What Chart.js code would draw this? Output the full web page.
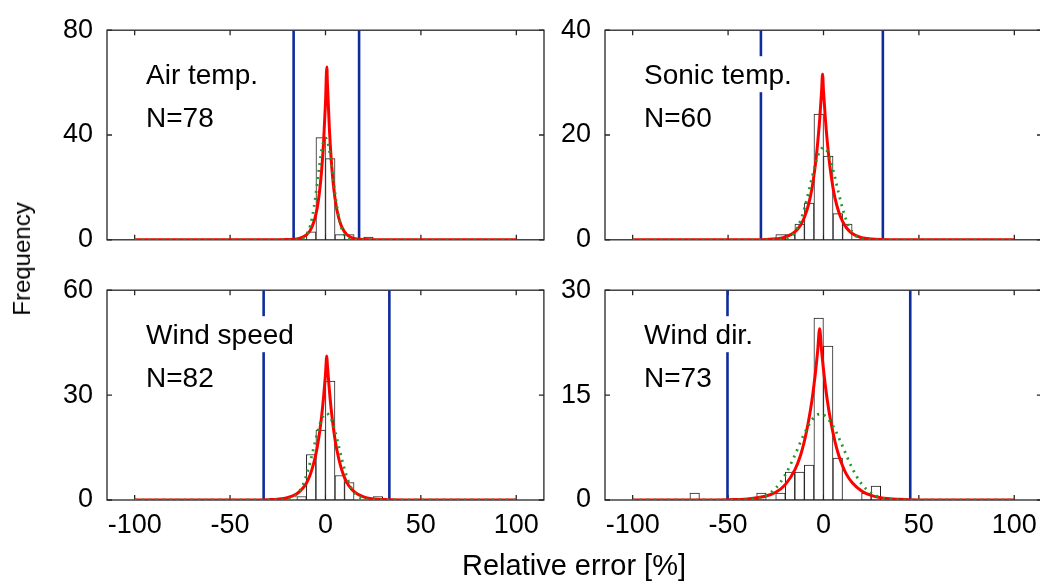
<!DOCTYPE html>
<html>
<head>
<meta charset="utf-8">
<title>Relative error histograms</title>
<script src="https://cdn.jsdelivr.net/npm/chart.js@4.4.1/dist/chart.umd.min.js"></script>
<style>
  html, body { margin: 0; padding: 0; background: #fff; overflow: hidden; }
  body { width: 1040px; height: 587px; position: relative; font-family: 'Liberation Sans', Arial, sans-serif; }
  canvas { position: absolute; }
  #c-air { left: 0; top: 0; }
  #c-sonic { left: 498px; top: 0; }
  #c-speed { left: 0; top: 260px; }
  #c-dir { left: 498px; top: 260px; }
  .axis-title { position: absolute; color: #000; white-space: nowrap; }
  #ylab { left: 22px; top: 259px; font-size: 24px; transform: translate(-50%, -50%) rotate(-90deg); }
  #xlab { left: 574px; top: 565px; font-size: 29px; transform: translate(-50%, -50%); }
</style>
</head>
<body>
<canvas id="c-air" width="548" height="270"></canvas>
<canvas id="c-sonic" width="548" height="270"></canvas>
<canvas id="c-speed" width="548" height="327"></canvas>
<canvas id="c-dir" width="548" height="327"></canvas>
<div class="axis-title" id="ylab">Frequency</div>
<div class="axis-title" id="xlab">Relative error [%]</div>
<script>
// --- Values ---
const X_MIN = -114.5, X_MAX = 114.5;
const xTicks = [-100, -50, 0, 50, 100];

// Air temp. (bin centres, 5 % wide)
const airBins = [-7.5, -2.5, 2.5, 7.5, 12.5, 22.5];
const airCounts = [3, 39, 31, 2, 2, 1];
const airLimits = [-16.7, 17.6];
const airYTicks = [0, 40, 80];
const airRedX = [-100, -30, -20, -15, -12, -10, -8, -6, -5, -4, -3, -2, -1, 0, 0.7, 1, 2, 3, 4, 5, 6, 8, 10, 12, 15, 20, 30, 100];
const airRedY = [0, 0, 0.1, 0.35, 1.0, 1.9, 3.6, 7.1, 9.9, 13.7, 19.2, 26.8, 37.4, 52.4, 66, 59.7, 42.9, 30.6, 21.9, 15.7, 11.3, 5.8, 3.0, 1.5, 0.56, 0.1, 0, 0];
const airGreenX = [-100, -15, -12, -10, -8, -6, -5, -4, -3, -2, -1, 0, 1, 2, 3, 4, 5, 6, 8, 10, 12, 15, 100];
const airGreenY = [0, 0, 0.4, 1.7, 5.3, 12.6, 17.8, 23.6, 29.4, 34.3, 37.7, 38.9, 37.7, 34.3, 29.4, 23.6, 17.8, 12.6, 5.3, 1.7, 0.4, 0, 0];

// Sonic temp.
const sonicBins = [-22.5, -17.5, -12.5, -7.5, -2.5, 2.5, 7.5, 12.5];
const sonicCounts = [1, 1, 3, 7, 24, 16, 5, 3];
const sonicLimits = [-32.8, 31.1];
const sonicYTicks = [0, 20, 40];
const sonicRedX = [-100, -40, -30, -25, -20, -15, -12, -10, -8, -6, -5, -4, -3, -2, -1, -0.5, 0, 1, 2, 3, 4, 5, 6, 8, 10, 12, 15, 20, 25, 30, 40, 100];
const sonicRedY = [0, 0, 0.06, 0.18, 0.5, 1.5, 2.8, 4.3, 6.5, 9.9, 12.3, 15.1, 18.7, 23.0, 28.4, 31.6, 28.4, 23.0, 18.7, 15.1, 12.3, 9.9, 8.0, 5.3, 3.5, 2.3, 1.2, 0.4, 0.15, 0.05, 0, 0];
const sonicGreenX = [-100, -25, -20, -15, -12, -10, -8, -6, -4, -2, 0, 2, 4, 6, 8, 10, 12, 15, 20, 25, 100];
const sonicGreenY = [0, 0, 0.2, 1.5, 3.7, 6.0, 8.8, 11.9, 14.8, 16.9, 17.6, 16.9, 14.8, 11.9, 8.8, 6.0, 3.7, 1.5, 0.2, 0, 0];

// Wind speed
const speedBins = [-12.5, -7.5, -2.5, 2.5, 7.5, 12.5, 27.5];
const speedCounts = [1, 13, 20, 34, 7, 5, 1];
const speedLimits = [-32.4, 33.5];
const speedYTicks = [0, 30, 60];
const speedRedX = [-100, -40, -30, -25, -20, -15, -12, -10, -8, -6, -5, -4, -3, -2, -1, 0, 0.7, 1, 2, 3, 4, 5, 6, 8, 10, 12, 15, 20, 25, 30, 40, 100];
const speedRedY = [0, 0, 0.1, 0.24, 0.66, 1.8, 3.3, 4.8, 7.2, 10.8, 13.2, 16.1, 19.6, 24.0, 29.3, 35.8, 41.2, 38.8, 31.8, 26.0, 21.3, 17.4, 14.3, 9.6, 6.4, 4.3, 2.4, 0.87, 0.32, 0.12, 0, 0];
const speedGreenX = [-100, -25, -20, -15, -12, -10, -8, -6, -4, -2, 0.5, 3, 5, 7, 9, 11, 13, 16, 21, 26, 100];
const speedGreenY = [0, 0, 0.2, 1.6, 4.1, 7.0, 10.8, 15.3, 19.7, 23.1, 24.8, 23.1, 19.7, 15.3, 10.8, 7.0, 4.1, 1.6, 0.2, 0, 0];

// Wind dir.
const dirBins = [-67.5, -32.5, -22.5, -17.5, -12.5, -7.5, -2.5, 2.5, 7.5, 22.5, 27.5];
const dirCounts = [1, 1, 1, 4, 4, 5, 26, 22, 6, 1, 2];
const dirLimits = [-50.3, 45.5];
const dirYTicks = [0, 15, 30];
const dirRedX = [-100, -60, -50, -40, -30, -25, -20, -15, -12, -10, -8, -6, -4, -3, -2, -1, 0, 2, 4, 6, 8, 10, 12, 15, 20, 25, 30, 40, 50, 100];
const dirRedY = [0, 0, 0.04, 0.15, 0.57, 1.1, 2.2, 4.3, 6.4, 8.4, 11.0, 14.3, 18.7, 21.4, 24.5, 21.4, 18.7, 14.3, 11.0, 8.4, 6.4, 4.9, 3.7, 2.5, 1.3, 0.65, 0.33, 0.09, 0, 0];
const dirGreenX = [-100, -50, -40, -30, -25, -20, -15, -10, -5, -1.5, 0, 5, 10, 15, 20, 25, 30, 40, 50, 100];
const dirGreenY = [0, 0, 0.06, 0.66, 1.7, 3.6, 6.4, 9.5, 11.8, 12.3, 12.2, 10.6, 7.7, 4.6, 2.3, 1.0, 0.35, 0.03, 0, 0];

// --- Styles ---
const FONT = "'Liberation Sans', Arial, sans-serif";
const RED = '#ff0000';
const GREEN = '#1f9a26';
const BLUE = '#0f2c9c';
const AXIS = '#262626';

function pts(xs, ys) {
  return xs.map((x, i) => ({ x: x, y: ys[i] }));
}

// Box with inward ticks (MATLAB look) plus the panel label
const panelBox = {
  id: 'panelBox',
  beforeDatasetsDraw(chart, args, opts) {
    const ctx = chart.ctx;
    const a = chart.chartArea;
    const sx = chart.scales.x, sy = chart.scales.y;
    ctx.save();
    ctx.strokeStyle = AXIS;
    ctx.lineWidth = 1.3;
    ctx.strokeRect(a.left, a.top, a.right - a.left, a.bottom - a.top);
    ctx.beginPath();
    xTicks.forEach(v => {
      const p = sx.getPixelForValue(v);
      ctx.moveTo(p, a.bottom); ctx.lineTo(p, a.bottom - 5);
      ctx.moveTo(p, a.top); ctx.lineTo(p, a.top + 5);
    });
    opts.yTicks.forEach(v => {
      const p = sy.getPixelForValue(v);
      ctx.moveTo(a.left, p); ctx.lineTo(a.left + 5, p);
      ctx.moveTo(a.right, p); ctx.lineTo(a.right - 5, p);
    });
    ctx.stroke();
    ctx.restore();
  },
  afterDatasetsDraw(chart, args, opts) {
    const ctx = chart.ctx;
    const a = chart.chartArea;
    ctx.save();
    ctx.font = '28px ' + FONT;
    ctx.textAlign = 'left';
    ctx.textBaseline = 'alphabetic';
    const tx = a.left + 39;
    const w = ctx.measureText(opts.title).width;
    ctx.fillStyle = '#fff';
    ctx.fillRect(tx - 3, a.top + 26, w + 6, 36);
    ctx.fillStyle = '#000';
    ctx.fillText(opts.title, tx, a.top + 54);
    ctx.fillText(opts.n, tx, a.top + 97);
    ctx.restore();
  }
};

function makePanel(canvasId, p) {
  const yMax = p.yTicks[p.yTicks.length - 1];
  return new Chart(document.getElementById(canvasId), {
    type: 'bar',
    data: {
      datasets: [
        {
          type: 'line', data: pts(p.greenX, p.greenY),
          borderColor: GREEN, borderWidth: 2.8, borderDash: [2, 5],
          pointRadius: 0, cubicInterpolationMode: 'monotone', order: 1
        },
        {
          type: 'line', data: pts(p.redX, p.redY),
          borderColor: RED, borderWidth: 3,
          pointRadius: 0, cubicInterpolationMode: 'monotone', order: 2
        },
        {
          type: 'line', data: [{ x: p.limits[0], y: 0 }, { x: p.limits[0], y: yMax }],
          borderColor: BLUE, borderWidth: 2.6, pointRadius: 0, order: 3
        },
        {
          type: 'line', data: [{ x: p.limits[1], y: 0 }, { x: p.limits[1], y: yMax }],
          borderColor: BLUE, borderWidth: 2.6, pointRadius: 0, order: 3
        },
        {
          type: 'bar', data: pts(p.bins, p.counts),
          backgroundColor: '#ffffff', borderColor: '#222222', borderWidth: 1,
          borderSkipped: false, barPercentage: 1, categoryPercentage: 1, order: 4
        }
      ]
    },
    options: {
      animation: false,
      responsive: false,
      events: [],
      layout: { padding: { top: 21, bottom: p.showX ? 0 : 29, left: 0, right: 4 } },
      plugins: {
        legend: { display: false },
        tooltip: { enabled: false },
        panelBox: { title: p.title, n: p.n, yTicks: p.yTicks }
      },
      scales: {
        x: {
          type: 'linear', min: X_MIN, max: X_MAX, offset: false,
          grid: { display: false, drawTicks: false },
          border: { display: false },
          afterBuildTicks: s => { s.ticks = xTicks.map(v => ({ value: v })); },
          afterFit: s => { s.height = p.showX ? 87 : 0; },
          ticks: {
            display: p.showX, padding: 9, color: '#000',
            maxRotation: 0, autoSkip: false,
            font: { size: 27, family: FONT }
          }
        },
        y: {
          type: 'linear', min: 0, max: yMax,
          grid: { display: false, drawTicks: false },
          border: { display: false },
          afterBuildTicks: s => { s.ticks = p.yTicks.map(v => ({ value: v })); },
          afterFit: s => { s.width = 107; },
          ticks: { padding: 14, color: '#000', font: { size: 27, family: FONT } }
        }
      }
    },
    plugins: [panelBox]
  });
}

makePanel('c-air', {
  bins: airBins, counts: airCounts, limits: airLimits, yTicks: airYTicks,
  redX: airRedX, redY: airRedY, greenX: airGreenX, greenY: airGreenY,
  title: 'Air temp.', n: 'N=78', showX: false
});
makePanel('c-sonic', {
  bins: sonicBins, counts: sonicCounts, limits: sonicLimits, yTicks: sonicYTicks,
  redX: sonicRedX, redY: sonicRedY, greenX: sonicGreenX, greenY: sonicGreenY,
  title: 'Sonic temp.', n: 'N=60', showX: false
});
makePanel('c-speed', {
  bins: speedBins, counts: speedCounts, limits: speedLimits, yTicks: speedYTicks,
  redX: speedRedX, redY: speedRedY, greenX: speedGreenX, greenY: speedGreenY,
  title: 'Wind speed', n: 'N=82', showX: true
});
makePanel('c-dir', {
  bins: dirBins, counts: dirCounts, limits: dirLimits, yTicks: dirYTicks,
  redX: dirRedX, redY: dirRedY, greenX: dirGreenX, greenY: dirGreenY,
  title: 'Wind dir.', n: 'N=73', showX: true
});
</script>
</body>
</html>
